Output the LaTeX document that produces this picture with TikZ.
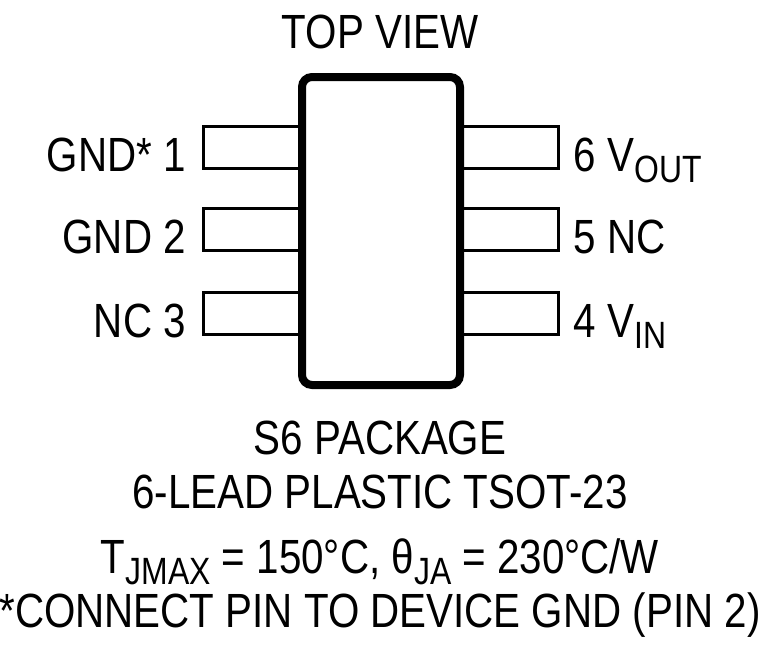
\documentclass[tikz,border=0pt]{standalone}
\usepackage{fontspec}
\setmainfont[FakeStretch=0.84]{Liberation Sans}
\usetikzlibrary{positioning}
\tikzset{
  pin/.style={draw,line width=3pt,minimum width=98pt,minimum height=42pt,inner sep=0pt},
  lbl/.style={font=\fontsize{48}{52}\selectfont,inner sep=0pt},
}
\newcommand{\sbs}[1]{\raisebox{-0.45ex}{\fontsize{38}{40}\selectfont #1}}
\begin{document}
\begin{tikzpicture}[x=1pt,y=-1pt]
\useasboundingbox (0,0) rectangle (760,645);
\draw[line width=8pt,rounded corners=10pt] (302,77) rectangle (460,385);
\node[lbl] (top) at (380,32) {TOP VIEW};
\node[pin] (p1) at (252.5,147) {};
\node[pin] (p2) at (252.5,229) {};
\node[pin] (p3) at (252.5,313) {};
\node[pin] (p6) at (509,147) {};
\node[pin] (p5) at (509,229) {};
\node[pin] (p4) at (509,313) {};
\node[lbl,anchor=base east] (l1) at ([xshift=-16pt,yshift=-2pt]p1.south west) {GND* 1};
\node[lbl,anchor=base east] (l2) at ([xshift=-16pt,yshift=-2pt]p2.south west) {GND 2};
\node[lbl,anchor=base east] (l3) at ([xshift=-16pt,yshift=-2pt]p3.south west) {NC 3};
\node[lbl,anchor=base west] (l6) at ([xshift=14pt,yshift=-2pt]p6.south east) {6 V\sbs{OUT}};
\node[lbl,anchor=base west] (l5) at ([xshift=14pt,yshift=-2pt]p5.south east) {5 NC};
\node[lbl,anchor=base west] (l4) at ([xshift=14pt,yshift=-2pt]p4.south east) {4 V\sbs{IN}};
\node[lbl] (pkg) at (380,438) {S6 PACKAGE};
\node[lbl] (lead) at (380,492) {6-LEAD PLASTIC TSOT-23};
\node[lbl] (therm) at (380,562) {T\sbs{JMAX} = 150°C, θ\sbs{JA} = 230°C/W};
\node[lbl] (note) at (380,615) {*CONNECT PIN TO DEVICE GND (PIN 2)};
\end{tikzpicture}
\end{document}
